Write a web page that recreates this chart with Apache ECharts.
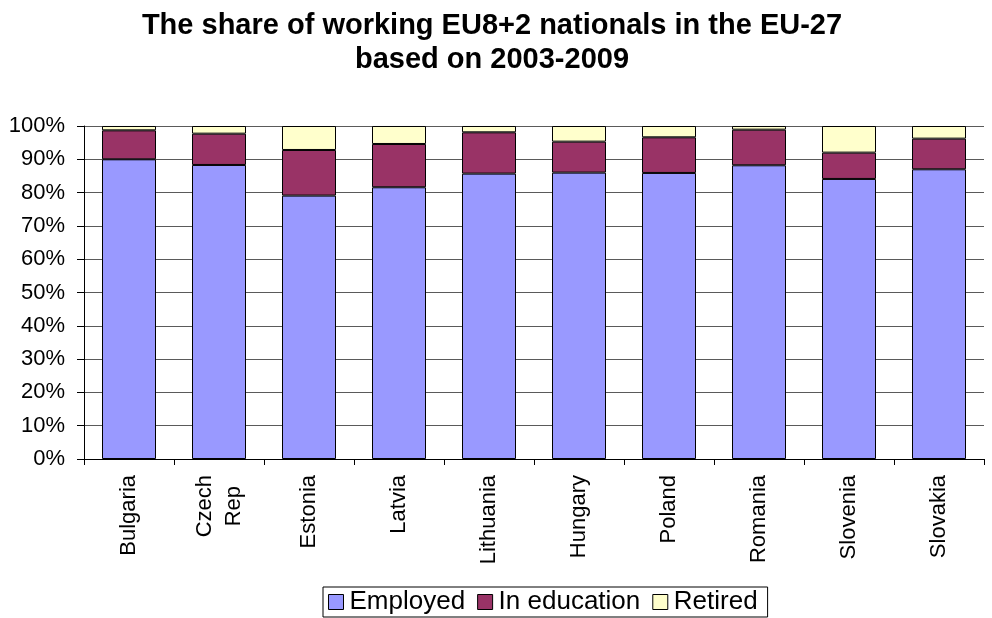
<!DOCTYPE html>
<html>
<head>
<meta charset="utf-8">
<script src="https://cdn.jsdelivr.net/npm/echarts@6/dist/echarts.min.js"></script>
<style>
  html, body { margin: 0; padding: 0; background: #fff; }
  #chart { width: 992px; height: 618px; }
</style>
</head>
<body>
<div id="chart"></div>
<script>
// Country groups (EU8+2)
const countries = ['Bulgaria', 'Czech\nRep', 'Estonia', 'Latvia', 'Lithuania',
                   'Hungary', 'Poland', 'Romania', 'Slovenia', 'Slovakia'];

// Share of each status, in percent
const employed    = [90.0, 88.3, 79.1, 81.6, 85.7, 86.0, 85.9, 88.2, 84.1, 87.0];
const inEducation = [ 8.7,  9.4, 13.7, 13.0, 12.4,  9.3, 10.7, 10.7,  7.9,  9.2];
const retired     = [ 1.3,  2.3,  7.2,  5.4,  1.9,  4.7,  3.4,  1.1,  8.0,  3.8];

const yTicks = [0, 10, 20, 30, 40, 50, 60, 70, 80, 90, 100];

const font = 'Liberation Sans, Arial, sans-serif';

function barSeries(name, data, color) {
  return {
    name: name,
    type: 'bar',
    stack: 'total',
    data: data,
    barWidth: '60%',
    itemStyle: { color: color, borderColor: '#000', borderWidth: 1 }
  };
}

const chart = echarts.init(document.getElementById('chart'), null, { renderer: 'canvas' });
chart.setOption({
  animation: false,
  backgroundColor: '#fff',
  title: {
    text: 'The share of working EU8+2 nationals in the EU-27\nbased on 2003-2009',
    left: 487,
    textAlign: 'center',
    top: 4,
    textStyle: { fontFamily: font, fontSize: 29, fontWeight: 'bold', color: '#000', lineHeight: 34 }
  },
  grid: { left: 84, right: 8, top: 126, bottom: 159 },
  legend: {
    bottom: 1,
    left: 323,
    itemWidth: 15,
    itemHeight: 15,
    itemGap: 12,
    padding: [1, 10, 1, 5],
    borderColor: '#000',
    borderWidth: 1,
    icon: 'rect',
    itemStyle: { borderColor: '#000', borderWidth: 1 },
    textStyle: { fontFamily: font, fontSize: 26, color: '#000', lineHeight: 28, padding: [0, 0, 0, 1] },
    data: ['Employed', 'In education', 'Retired']
  },
  xAxis: {
    type: 'category',
    data: countries,
    axisLine: { lineStyle: { color: '#000', width: 1 } },
    axisTick: { show: true, length: 6, alignWithLabel: false, lineStyle: { color: '#000' } },
    axisLabel: {
      rotate: 90,
      margin: 16,
      interval: 0,
      formatter: function (v) {
        return v.split('\n').map(function (s) { return '{c|' + s + '}'; }).join('\n');
      },
      rich: {
        c: { align: 'center', fontFamily: font, fontSize: 22, color: '#000', lineHeight: 29 }
      }
    }
  },
  yAxis: {
    type: 'value',
    min: yTicks[0],
    max: yTicks[yTicks.length - 1],
    interval: 10,
    axisLine: { show: true, lineStyle: { color: '#000', width: 1 } },
    axisTick: { show: true, length: 7, lineStyle: { color: '#000' } },
    axisLabel: {
      margin: 19,
      formatter: '{value}%',
      fontFamily: font,
      fontSize: 22,
      color: '#000'
    },
    splitLine: { show: true, lineStyle: { color: '#5a5a5a', width: 1 } }
  },
  series: [
    barSeries('Employed', employed, '#9999FF'),
    barSeries('In education', inEducation, '#993366'),
    barSeries('Retired', retired, '#FFFFCC')
  ]
});
</script>
</body>
</html>
